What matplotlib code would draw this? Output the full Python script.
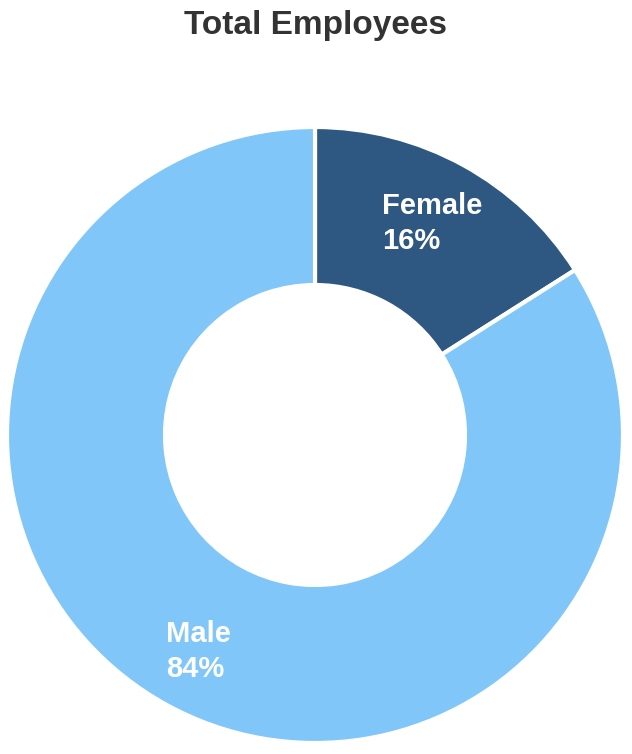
"""Donut chart: total employees split by gender."""
import matplotlib.pyplot as plt

plt.rcParams["font.family"] = ["Liberation Sans", "DejaVu Sans"]

categories = ["Female", "Male"]
shares = [16, 84]
colors = ["#2e5782", "#80c6f8"]

W, H = 632, 754
fig = plt.figure(figsize=(W / 100, H / 100), dpi=100)
ax = fig.add_axes([0, 0, 1, 1])

# donut, pixel coordinates (y up)
cx, cy = 315, H - 435
R_OUT, RING = 308, 158
ax.pie(shares, colors=colors, startangle=90, counterclock=False,
       center=(cx, cy), radius=R_OUT, frame=True,
       wedgeprops=dict(width=RING, edgecolor="white", linewidth=3,
                       joinstyle="round"))
ax.set_xlim(0, W)
ax.set_ylim(0, H)
ax.set_aspect("equal")
ax.axis("off")

# label anchors (left edge, first-line baseline) in pixels from top
label_pos = {"Female": (382, 214), "Male": (166, 642)}
for name, val in zip(categories, shares):
    x, y = label_pos[name]
    ax.text(x, H - y, name, color="white", fontsize=21,
            fontweight="bold", ha="left", va="baseline")
    ax.text(x, H - y - 35, f"{val}%", color="white", fontsize=21,
            fontweight="bold", ha="left", va="baseline")

ax.text(W / 2, H - 34, "Total Employees", color="#333333", fontsize=24,
        fontweight="bold", ha="center", va="baseline")

fig.savefig("out.png", dpi=100)
